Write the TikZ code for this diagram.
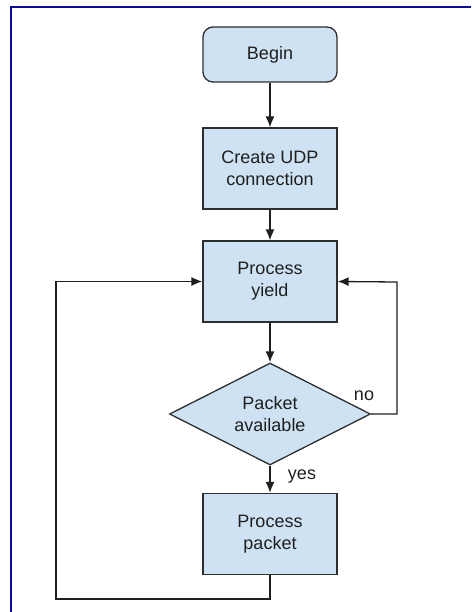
\documentclass[tikz,border=0pt]{standalone}
\usepackage{fontspec}
\setmainfont{Liberation Sans}
\usetikzlibrary{shapes.geometric,arrows.meta}
\definecolor{boxblue}{RGB}{207,226,243}
\definecolor{frameblue}{RGB}{12,12,150}

\begin{document}
\begin{tikzpicture}[x=1pt,y=-1pt,>={Latex[length=11pt,width=9pt]},
  txt/.style={font=\fontsize{18}{22}\selectfont,text=black!88},
  box/.style={txt,draw=black!82,fill=boxblue,line width=1.3pt,minimum width=134pt,minimum height=81pt,align=center,inner sep=0pt},
  dbox/.style={txt,draw=black!82,fill=boxblue,line width=1.3pt,diamond,aspect=2,minimum width=201pt,minimum height=102pt,align=center,inner sep=0pt},
  line/.style={draw=black!88,line width=1.3pt}]
\useasboundingbox (0,0) rectangle (471,612);
\draw[frameblue,line width=2pt] (11,612) -- (11,7) -- (471,7); % frame

\node[box,rounded corners=10pt,minimum height=55pt] (begin) at (270,54.5) {Begin};
\node[box] (udp) at (270,168.5) {Create UDP\\connection};
\node[box] (yield) at (270,281.5) {Process\\yield};
\node[dbox] (avail) at (270,414) {Packet\\available};
\node[box] (packet) at (270,534) {Process\\packet};

\coordinate (noback) at (397,282);
\coordinate (back) at (56,599);

\draw[line,->] (begin) -- (udp);
\draw[line,->] (udp) -- (yield);
\draw[line,->] (yield) -- (avail);
\draw[line,->] (avail) -- (packet);
\draw[line,->] (avail.east) -| (noback) -- (yield.east); % no
\draw[line,->] (packet.south) |- (back) |- (yield.west); % loop back

\node[txt] (no) at (364,396) {no};
\node[txt] (yes) at (302,477) {yes};
\end{tikzpicture}
\end{document}
